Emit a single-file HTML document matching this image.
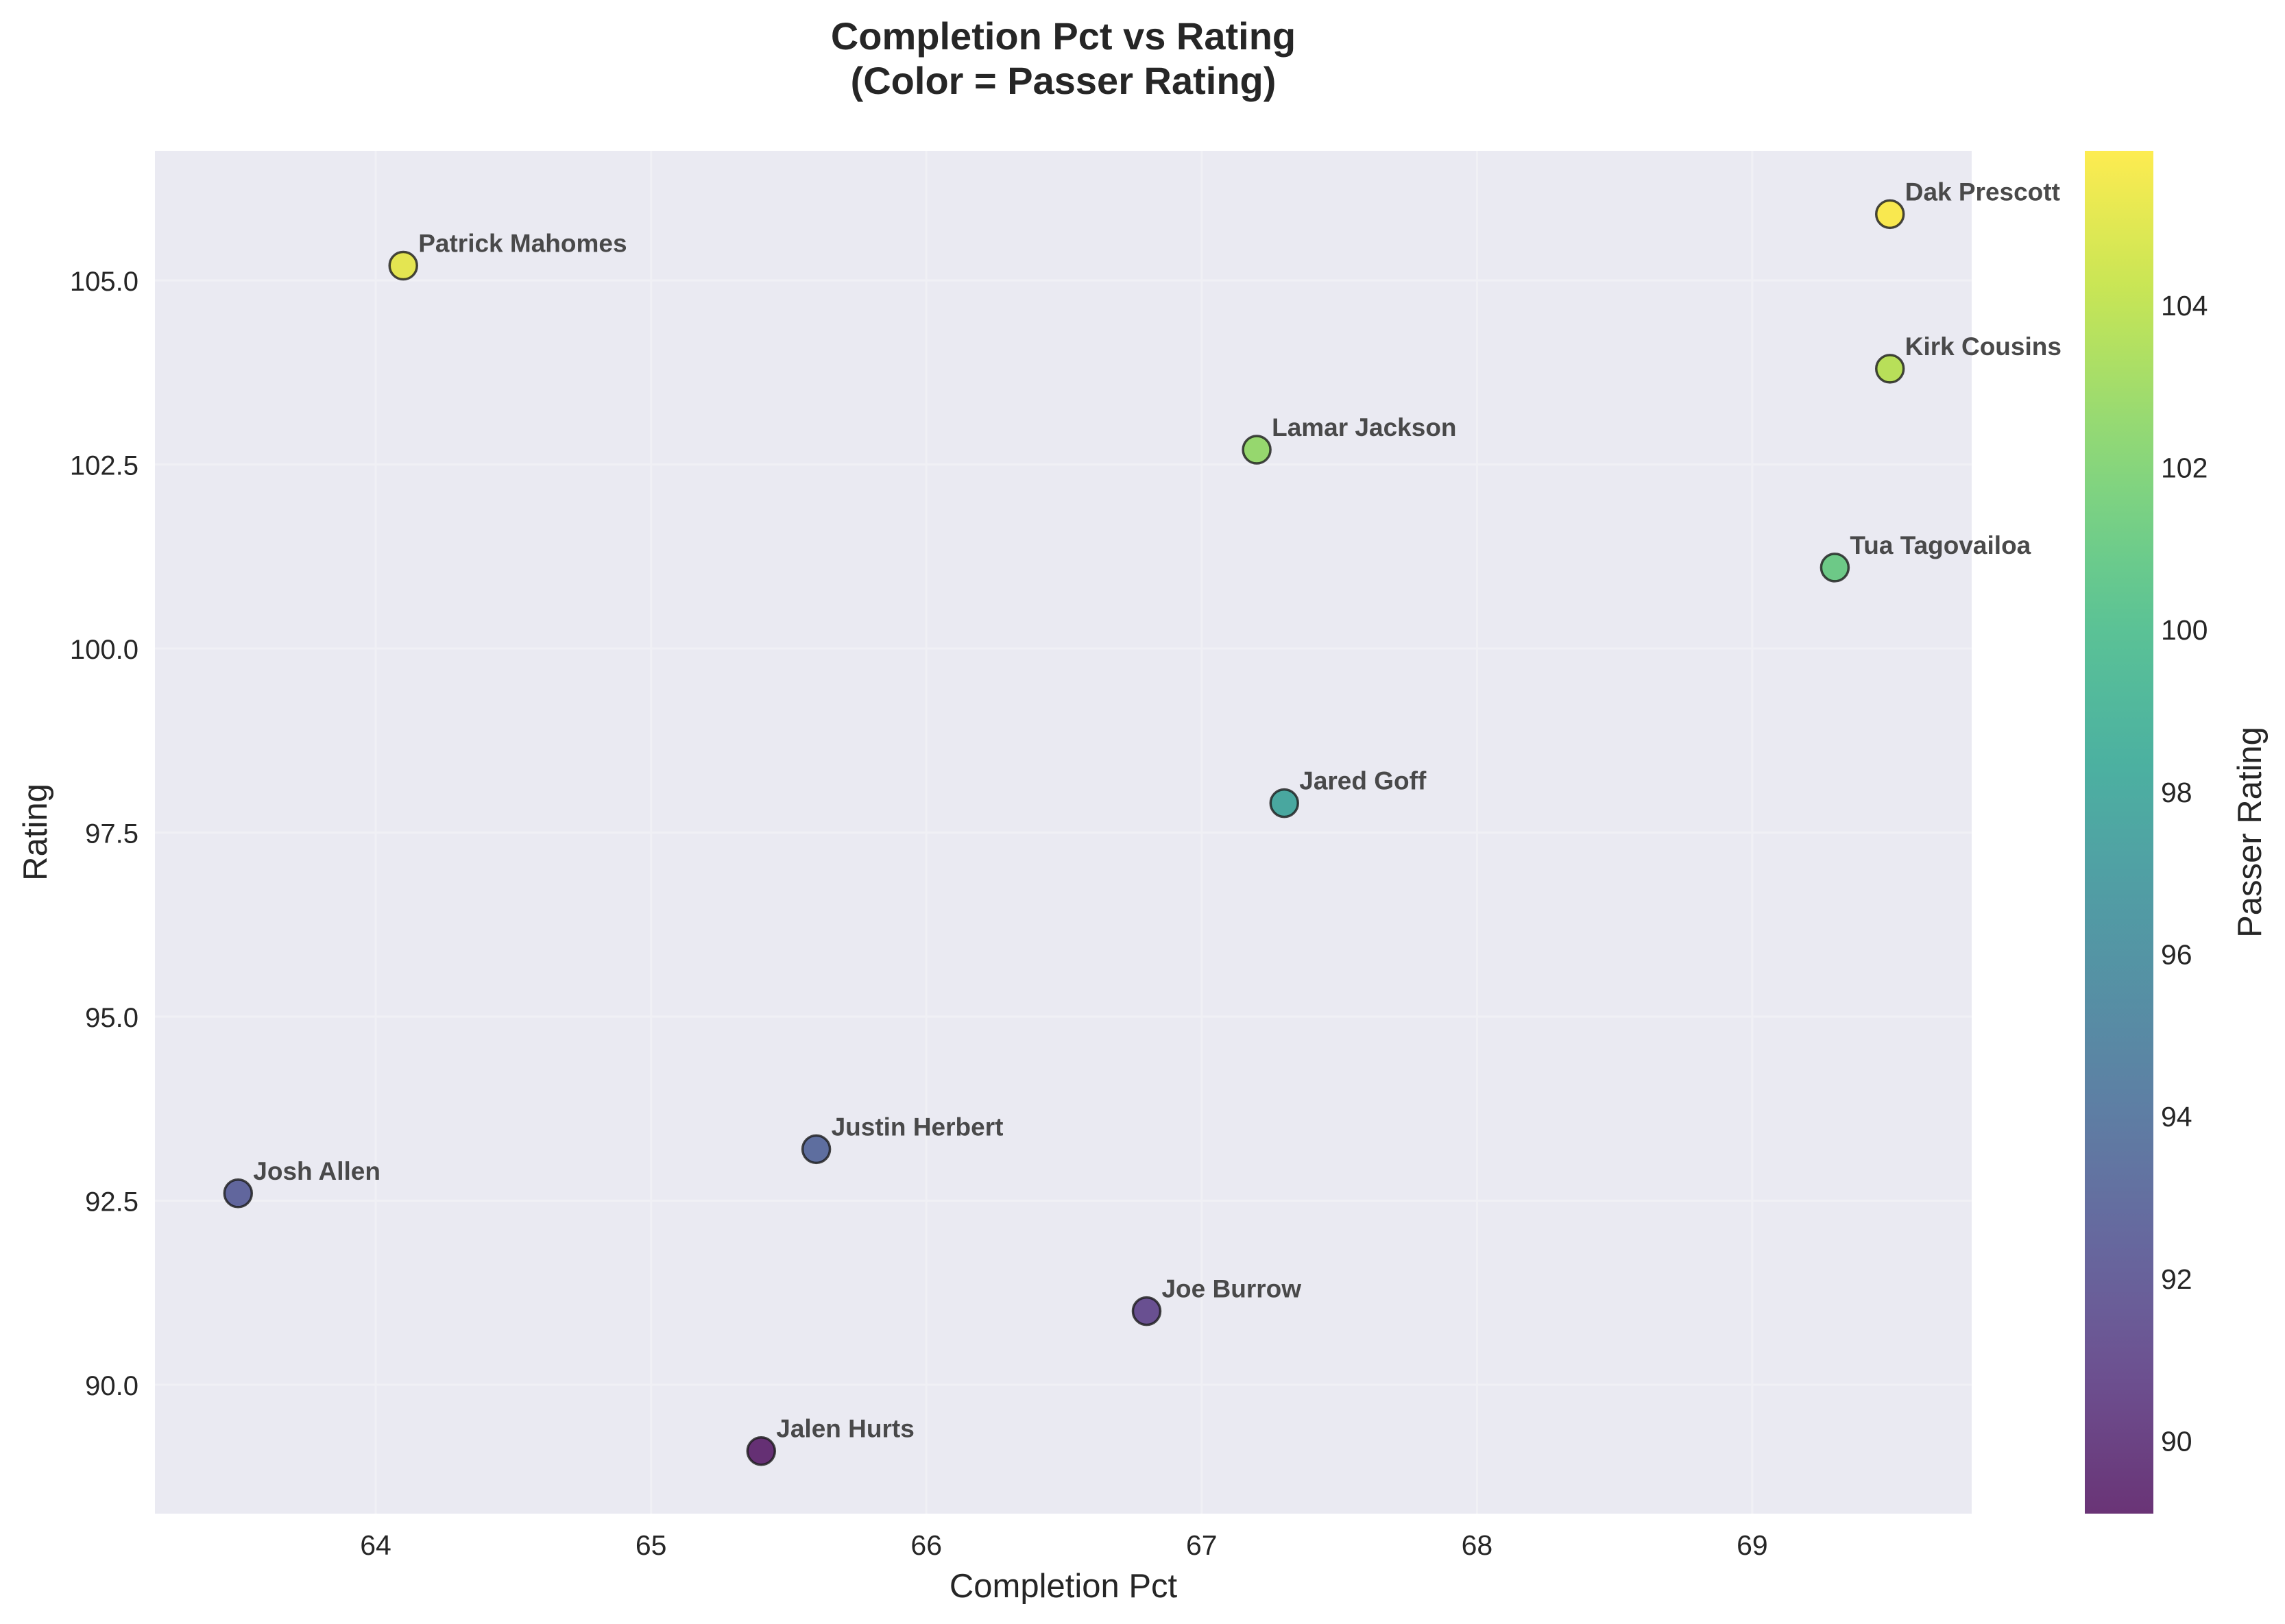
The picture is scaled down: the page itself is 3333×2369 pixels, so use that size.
<!DOCTYPE html>
<html><head><meta charset="utf-8"><style>
html,body{margin:0;padding:0;background:#fff;}
svg{display:block;font-family:"Liberation Sans",Arial,sans-serif;}
</style></head><body>
<svg id="chart" width="3333" height="2369" viewBox="0 0 3333 2369" xmlns="http://www.w3.org/2000/svg">
<rect x="0" y="0" width="3333" height="2369" fill="#fff"/>
<text x="1551" y="72" text-anchor="middle" font-size="56" font-weight="bold" fill="#262626">Completion Pct vs Rating</text>
<text x="1551" y="137" text-anchor="middle" font-size="56" font-weight="bold" fill="#262626">(Color = Passer Rating)</text>
<rect x="226" y="220" width="2650" height="1988" fill="#eaeaf2"/>
<g id="grid"></g>
<g id="points"></g>
<g id="xticks"></g>
<g id="yticks"></g>
<text x="1551" y="2330" text-anchor="middle" font-size="49" fill="#262626">Completion Pct</text>
<text transform="translate(68,1214) rotate(-90)" text-anchor="middle" font-size="49" fill="#262626">Rating</text>
<defs><linearGradient id="cbgrad" x1="0" y1="1" x2="0" y2="0"></linearGradient></defs>
<rect x="3041" y="220" width="100" height="1988" fill="url(#cbgrad)" opacity="0.8"/>
<g id="cbticks"></g>
<text transform="translate(3298,1214) rotate(-90)" text-anchor="middle" font-size="49" fill="#262626">Passer Rating</text>
</svg>
<script>
const players = ["Patrick Mahomes","Dak Prescott","Kirk Cousins","Lamar Jackson","Tua Tagovailoa","Jared Goff","Justin Herbert","Josh Allen","Joe Burrow","Jalen Hurts"];
const completionPct = [64.1,69.5,69.5,67.2,69.3,67.3,65.6,63.5,66.8,65.4];
const rating = [105.2,105.9,103.8,102.7,101.1,97.9,93.2,92.6,91.0,89.1];
const xTicks = [64,65,66,67,68,69];
const yTicks = [90.0,92.5,95.0,97.5,100.0,102.5,105.0];
const cbTicks = [90,92,94,96,98,100,102,104];

const NS="http://www.w3.org/2000/svg";
const L=226,R=2876,T=220,B=2208;
const xMin=63.198,xMax=69.797,yMin=88.25,yMax=106.76;
const cMin=Math.min(...rating),cMax=Math.max(...rating);
const xs=v=>L+(v-xMin)/(xMax-xMin)*(R-L);
const ys=v=>B-(v-yMin)/(yMax-yMin)*(B-T);
const cs=v=>B-(v-cMin)/(cMax-cMin)*(B-T);
const vir=[[68,1,84],[72,40,120],[62,73,137],[49,104,142],[38,130,142],[31,158,137],[53,183,121],[109,205,89],[180,222,44],[253,231,37]];
function viridis(t){t=Math.max(0,Math.min(1,t));const p=t*(vir.length-1);const i=Math.min(Math.floor(p),vir.length-2);const f=p-i;
const c=vir[i].map((a,k)=>Math.round(a+(vir[i+1][k]-a)*f));return `rgb(${c[0]},${c[1]},${c[2]})`;}
function mk(tag,attrs,parent){const e=document.createElementNS(NS,tag);for(const k in attrs)e.setAttribute(k,attrs[k]);parent.appendChild(e);return e;}
const grid=document.getElementById('grid');
xTicks.forEach(v=>{
 const g=mk('line',{x1:xs(v),x2:xs(v),y1:T,y2:B,stroke:'#f0f0f5','stroke-width':3},grid);
 
 
 const t=mk('text',{x:xs(v),y:B+60,'text-anchor':'middle','font-size':41,fill:'#262626'},document.getElementById('xticks'));
 t.textContent=String(v);
 
 
});
yTicks.forEach(v=>{
 const g=mk('line',{x1:L,x2:R,y1:ys(v),y2:ys(v),stroke:'#f0f0f5','stroke-width':3},grid);
 
 
 const t=mk('text',{x:L-24,y:ys(v)+15,'text-anchor':'end','font-size':40,fill:'#262626'},document.getElementById('yticks'));
 t.textContent=v.toFixed(1);
 
 
});
const pts=document.getElementById('points');
players.forEach((n,i)=>{
 const cx=xs(completionPct[i]),cy=ys(rating[i]);
 const c=mk('circle',{cx:cx,cy:cy,r:20,fill:viridis((rating[i]-cMin)/(cMax-cMin)),'fill-opacity':0.8,stroke:'#1a1a1a','stroke-opacity':0.8,'stroke-width':3.5},pts);
 
 
 const t=mk('text',{x:cx+22,y:cy-20,'font-size':37,'font-weight':'bold',fill:'#404040','fill-opacity':0.95},pts);
 t.textContent=n;
 
 
});
const grad=document.getElementById('cbgrad');
for(let i=0;i<=20;i++){mk('stop',{offset:(i/20*100)+'%','stop-color':viridis(i/20)},grad);}
const cbt=document.getElementById('cbticks');
cbTicks.forEach(v=>{
 const t=mk('text',{x:3152,y:cs(v)+15,'font-size':41,fill:'#262626'},cbt);
 t.textContent=String(v);
 
 
});
</script>
</body></html>
